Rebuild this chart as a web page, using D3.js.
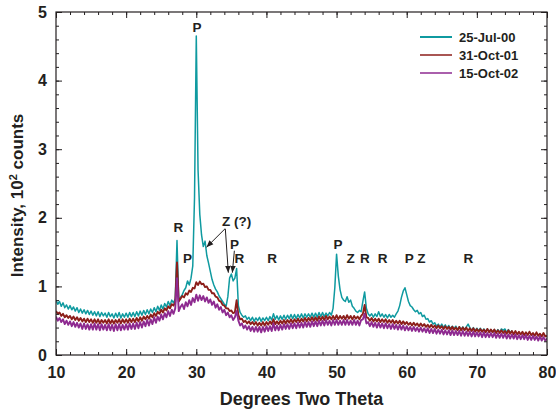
<!DOCTYPE html>
<html>
<head>
<meta charset="utf-8">
<script src="https://cdn.jsdelivr.net/npm/d3@7"></script>
<style>
  body { margin: 0; background: #fff; }
  text { font-family: "Liberation Sans", Arial, sans-serif; font-weight: bold; fill: #231f20; }
</style>
</head>
<body>
<script>
// x grid of the scans: 10 deg start, 0.25 deg step
var xStart = 10, xStep = 0.25;

// 25-Jul-00 (10 .. 75)
var jul00 = [
 0.80,0.74,0.78,0.71, 0.76,0.69,0.73,0.67, 0.72,0.66,0.70,0.64, 0.69,0.62,0.67,0.61,
 0.66,0.60,0.65,0.59, 0.64,0.58,0.63,0.57, 0.63,0.56,0.62,0.57, 0.61,0.55,0.62,0.56,
 0.60,0.54,0.61,0.55, 0.62,0.54,0.60,0.55, 0.61,0.55,0.62,0.56, 0.62,0.56,0.63,0.57,
 0.64,0.58,0.65,0.59, 0.66,0.60,0.67,0.62, 0.69,0.63,0.71,0.65, 0.73,0.67,0.75,0.70,
 0.78,0.72,0.80,0.76, 0.82,1.67,0.80,0.84, 0.88,0.94,0.98,1.08, 1.02,1.12,1.30,2.30,
 4.65,2.70,2.05,1.75, 1.58,1.66,1.45,1.34, 1.22,1.10,1.02,0.96, 0.92,0.86,0.82,0.78,
 0.74,0.71,0.85,1.12, 1.18,1.08,1.12,1.26, 0.72,0.62,0.58,0.55, 0.57,0.52,0.55,0.50,
 0.55,0.49,0.54,0.50, 0.55,0.49,0.54,0.50, 0.55,0.50,0.56,0.51, 0.60,0.52,0.57,0.51,
 0.57,0.52,0.58,0.52, 0.58,0.53,0.59,0.53, 0.59,0.53,0.59,0.54, 0.60,0.54,0.60,0.55,
 0.60,0.55,0.61,0.55, 0.61,0.55,0.62,0.56, 0.62,0.56,0.61,0.57, 0.62,0.58,0.68,0.98,
 1.47,1.15,0.95,0.84, 0.80,0.78,0.85,0.77, 0.80,0.71,0.68,0.64, 0.62,0.65,0.63,0.78,
 0.92,0.68,0.60,0.57, 0.60,0.55,0.60,0.56, 0.63,0.56,0.60,0.55, 0.59,0.54,0.59,0.55,
 0.58,0.55,0.60,0.64, 0.72,0.84,0.93,0.98, 0.88,0.78,0.72,0.70, 0.66,0.63,0.65,0.60,
 0.62,0.56,0.58,0.52, 0.53,0.48,0.50,0.45, 0.47,0.42,0.45,0.41, 0.45,0.40,0.44,0.39,
 0.43,0.38,0.42,0.38, 0.42,0.37,0.41,0.37, 0.41,0.37,0.41,0.45, 0.40,0.36,0.40,0.35,
 0.39,0.35,0.39,0.34, 0.38,0.34,0.38,0.34, 0.37,0.33,0.37,0.33, 0.37,0.33,0.38,0.36,
 0.38,0.33,0.37,0.32, 0.36
];

// 31-Oct-01 (10 .. 80)
var oct01 = [
 0.64,0.60,0.62,0.57, 0.60,0.55,0.58,0.54, 0.57,0.52,0.56,0.51, 0.55,0.50,0.54,0.49,
 0.53,0.48,0.53,0.48, 0.52,0.47,0.52,0.47, 0.52,0.46,0.51,0.47, 0.51,0.46,0.52,0.46,
 0.51,0.46,0.51,0.47, 0.52,0.46,0.52,0.47, 0.52,0.47,0.53,0.48, 0.53,0.48,0.54,0.49,
 0.55,0.50,0.56,0.52, 0.57,0.53,0.59,0.55, 0.61,0.57,0.63,0.60, 0.66,0.62,0.68,0.65,
 0.71,0.68,0.74,0.72, 0.77,1.35,0.78,0.82, 0.86,0.84,0.90,0.88, 0.94,0.92,0.98,0.97,
 1.06,1.02,1.07,1.03, 1.04,0.99,1.00,0.95, 0.95,0.90,0.90,0.85, 0.84,0.79,0.78,0.73,
 0.72,0.68,0.68,0.64, 0.65,0.61,0.62,0.80, 0.58,0.52,0.53,0.48, 0.50,0.46,0.49,0.45,
 0.48,0.44,0.48,0.43, 0.47,0.43,0.48,0.43, 0.48,0.44,0.49,0.45, 0.52,0.45,0.49,0.45,
 0.50,0.46,0.51,0.46, 0.51,0.47,0.52,0.47, 0.52,0.48,0.53,0.48, 0.53,0.49,0.54,0.49,
 0.54,0.50,0.55,0.50, 0.55,0.50,0.56,0.51, 0.56,0.51,0.57,0.52, 0.56,0.52,0.57,0.52,
 0.58,0.52,0.57,0.53, 0.57,0.52,0.58,0.53, 0.57,0.52,0.57,0.53, 0.56,0.52,0.57,0.60,
 0.73,0.55,0.54,0.50, 0.54,0.49,0.53,0.49, 0.53,0.48,0.52,0.48, 0.52,0.47,0.51,0.47,
 0.51,0.46,0.50,0.46, 0.50,0.45,0.49,0.45, 0.48,0.44,0.47,0.43, 0.47,0.43,0.46,0.42,
 0.46,0.42,0.45,0.41, 0.44,0.40,0.44,0.40, 0.43,0.39,0.43,0.39, 0.42,0.38,0.42,0.38,
 0.41,0.37,0.41,0.37, 0.40,0.36,0.41,0.36, 0.40,0.36,0.40,0.35, 0.39,0.35,0.39,0.34,
 0.38,0.34,0.38,0.34, 0.37,0.33,0.38,0.33, 0.37,0.33,0.37,0.32, 0.36,0.32,0.36,0.32,
 0.35,0.31,0.36,0.31, 0.35,0.30,0.35,0.30, 0.34,0.30,0.34,0.29, 0.33,0.29,0.34,0.29,
 0.32,0.28,0.33,0.28, 0.31,0.27,0.32,0.27, 0.28
];

// 15-Oct-02 (10 .. 80)
var oct02 = [
 0.56,0.50,0.54,0.48, 0.52,0.45,0.50,0.44, 0.49,0.42,0.48,0.41, 0.47,0.40,0.46,0.38,
 0.46,0.38,0.45,0.37, 0.45,0.37,0.46,0.37, 0.45,0.36,0.45,0.37, 0.44,0.36,0.45,0.36,
 0.44,0.35,0.45,0.36, 0.45,0.36,0.44,0.37, 0.45,0.37,0.46,0.38, 0.46,0.38,0.47,0.39,
 0.48,0.40,0.49,0.42, 0.51,0.43,0.52,0.45, 0.55,0.47,0.56,0.50, 0.59,0.52,0.61,0.55,
 0.64,0.57,0.66,0.60, 0.68,1.12,0.64,0.70, 0.74,0.67,0.77,0.71, 0.80,0.73,0.83,0.77,
 0.88,0.79,0.87,0.80, 0.86,0.78,0.84,0.76, 0.81,0.73,0.78,0.69, 0.74,0.66,0.70,0.62,
 0.66,0.58,0.62,0.55, 0.58,0.51,0.55,0.64, 0.50,0.43,0.46,0.39, 0.43,0.37,0.42,0.35,
 0.41,0.34,0.41,0.34, 0.41,0.33,0.41,0.34, 0.42,0.35,0.42,0.35, 0.46,0.36,0.43,0.36,
 0.44,0.37,0.45,0.38, 0.45,0.38,0.46,0.39, 0.46,0.39,0.47,0.40, 0.47,0.40,0.48,0.41,
 0.48,0.41,0.49,0.42, 0.49,0.42,0.50,0.43, 0.50,0.43,0.51,0.44, 0.50,0.43,0.51,0.44,
 0.51,0.44,0.50,0.44, 0.51,0.44,0.51,0.44, 0.50,0.44,0.51,0.44, 0.50,0.43,0.51,0.52,
 0.60,0.46,0.48,0.42, 0.48,0.41,0.47,0.40, 0.47,0.40,0.46,0.39, 0.46,0.39,0.45,0.38,
 0.45,0.38,0.44,0.37, 0.44,0.37,0.43,0.36, 0.42,0.36,0.41,0.35, 0.41,0.35,0.40,0.34,
 0.40,0.34,0.39,0.33, 0.39,0.32,0.38,0.32, 0.38,0.31,0.37,0.31, 0.37,0.30,0.36,0.30,
 0.36,0.29,0.36,0.29, 0.35,0.29,0.35,0.28, 0.35,0.28,0.34,0.28, 0.34,0.27,0.34,0.27,
 0.33,0.27,0.33,0.26, 0.33,0.26,0.32,0.26, 0.32,0.26,0.32,0.25, 0.31,0.25,0.31,0.25,
 0.31,0.24,0.30,0.24, 0.30,0.24,0.30,0.23, 0.29,0.23,0.29,0.23, 0.29,0.22,0.28,0.22,
 0.28,0.22,0.27,0.21, 0.27,0.21,0.26,0.21, 0.24
];

var seriesNames = ["25-Jul-00", "31-Oct-01", "15-Oct-02"];
var seriesColors = ["#0f9aa0", "#8c1e1a", "#8e2a90"];

var xTicks = [10, 20, 30, 40, 50, 60, 70, 80];
var yTicks = [0, 1, 2, 3, 4, 5];

// peak labels: [text, 2theta, intensity]
var peakLabels = [
  ["P", 30.1, 4.71], ["R", 27.45, 1.79], ["P", 28.75, 1.34],
  ["P", 35.45, 1.545], ["R", 36.15, 1.34], ["R", 40.8, 1.34],
  ["P", 50.2, 1.545], ["Z", 52.0, 1.34], ["R", 54.05, 1.34],
  ["R", 56.55, 1.34], ["P", 60.35, 1.34], ["Z", 62.1, 1.34],
  ["R", 68.8, 1.34]
];
// arrows [x1, y1, x2, y2]
var arrows = [
  [34.1, 1.84, 31.45, 1.57],
  [34.14, 1.84, 34.57, 1.2],
  [35.43, 1.52, 35.14, 1.2]
];

var margin = {top: 12, right: 9, bottom: 59, left: 56};
var W = 556, H = 414;
var w = W - margin.left - margin.right;
var h = H - margin.top - margin.bottom;

var x = d3.scaleLinear().domain([10, 80]).range([0, w]);
var y = d3.scaleLinear().domain([0, 5]).range([h, 0]);

var svg = d3.select("body").append("svg")
    .attr("width", W).attr("height", H);
var g = svg.append("g")
    .attr("transform", "translate(" + margin.left + "," + margin.top + ")");

// clip to plot area
svg.append("defs").append("clipPath").attr("id", "clip")
  .append("rect").attr("width", w).attr("height", h);

var line = d3.line()
    .x(function(d, i) { return x(xStart + i * xStep); })
    .y(function(d) { return y(d); });

var plot = g.append("g").attr("clip-path", "url(#clip)");
[jul00, oct01, oct02].forEach(function(data, k) {
  plot.append("path")
    .datum(data)
    .attr("d", line)
    .attr("fill", "none")
    .attr("stroke", seriesColors[k])
    .attr("stroke-width", k === 0 ? 1.5 : 1.9)
    .attr("stroke-linejoin", "round");
});

// axes with inward ticks, major + minor
function styleAxis(sel) {
  sel.select(".domain").remove();
  sel.selectAll("line").attr("stroke", "#231f20");
  sel.selectAll("text").style("font-size", "16px").attr("fill", "#231f20");
}
var xMinor = d3.range(10, 81, 2);
var yMinor = d3.range(0, 5.01, 0.2);

g.append("g").attr("transform", "translate(0," + h + ")")
  .call(d3.axisBottom(x).tickValues(xTicks).tickFormat(d3.format("d")).tickSize(-6).tickPadding(12))
  .call(styleAxis);
g.append("g").attr("transform", "translate(0," + h + ")")
  .call(d3.axisBottom(x).tickValues(xMinor).tickFormat("").tickSize(-3))
  .call(styleAxis);
g.append("g")
  .call(d3.axisTop(x).tickValues(xTicks).tickFormat("").tickSize(-6))
  .call(styleAxis);
g.append("g")
  .call(d3.axisTop(x).tickValues(xMinor).tickFormat("").tickSize(-3))
  .call(styleAxis);
g.append("g")
  .call(d3.axisLeft(y).tickValues(yTicks).tickFormat(d3.format("d")).tickSize(-6).tickPadding(9))
  .call(styleAxis);
g.append("g")
  .call(d3.axisLeft(y).tickValues(yMinor).tickFormat("").tickSize(-3))
  .call(styleAxis);
g.append("g").attr("transform", "translate(" + w + ",0)")
  .call(d3.axisRight(y).tickValues(yTicks).tickFormat("").tickSize(-6))
  .call(styleAxis);
g.append("g").attr("transform", "translate(" + w + ",0)")
  .call(d3.axisRight(y).tickValues(yMinor).tickFormat("").tickSize(-3))
  .call(styleAxis);

g.append("rect")
  .attr("width", w).attr("height", h)
  .attr("fill", "none").attr("stroke", "#231f20").attr("stroke-width", 1.2);

// axis titles
svg.append("text")
  .attr("x", margin.left + w / 2).attr("y", 405)
  .attr("text-anchor", "middle")
  .style("font-size", "18px")
  .text("Degrees Two Theta");

var yt = svg.append("text")
  .attr("transform", "translate(23," + (margin.top + h / 2 + 12) + ") rotate(-90)")
  .attr("text-anchor", "middle")
  .style("font-size", "17px");
yt.append("tspan").text("Intensity, 10");
yt.append("tspan").attr("dy", -6).style("font-size", "11px").text("2");
yt.append("tspan").attr("dy", 6).text(" counts");

// peak labels
g.selectAll(".peak")
  .data(peakLabels)
  .enter().append("text")
  .attr("class", "peak")
  .attr("x", function(d) { return x(d[1]); })
  .attr("y", function(d) { return y(d[2]); })
  .attr("text-anchor", "middle")
  .style("font-size", "13.5px")
  .text(function(d) { return d[0]; });

g.append("text")
  .attr("x", x(33.67)).attr("y", y(1.885))
  .style("font-size", "13.5px")
  .text("Z (?)");

svg.append("defs").append("marker")
  .attr("id", "arrow")
  .attr("viewBox", "0 0 10 10")
  .attr("refX", 10).attr("refY", 5)
  .attr("markerWidth", 7).attr("markerHeight", 7)
  .attr("markerUnits", "userSpaceOnUse")
  .attr("orient", "auto")
  .append("path").attr("d", "M0,1 L10,5 L0,9 Z").attr("fill", "#231f20");

g.selectAll(".arrow")
  .data(arrows)
  .enter().append("line")
  .attr("x1", function(d) { return x(d[0]); })
  .attr("y1", function(d) { return y(d[1]); })
  .attr("x2", function(d) { return x(d[2]); })
  .attr("y2", function(d) { return y(d[3]); })
  .attr("stroke", "#231f20")
  .attr("stroke-width", 1)
  .attr("marker-end", "url(#arrow)");

// legend
var legend = svg.append("g").attr("transform", "translate(420,37)");
seriesNames.forEach(function(name, i) {
  legend.append("line")
    .attr("x1", 0).attr("x2", 32)
    .attr("y1", i * 18).attr("y2", i * 18)
    .attr("stroke", seriesColors[i])
    .attr("stroke-width", i === 0 ? 2 : 1.5);
  legend.append("text")
    .attr("x", 39).attr("y", i * 18 + 4.5)
    .style("font-size", "13px")
    .text(name);
});
</script>
</body>
</html>
